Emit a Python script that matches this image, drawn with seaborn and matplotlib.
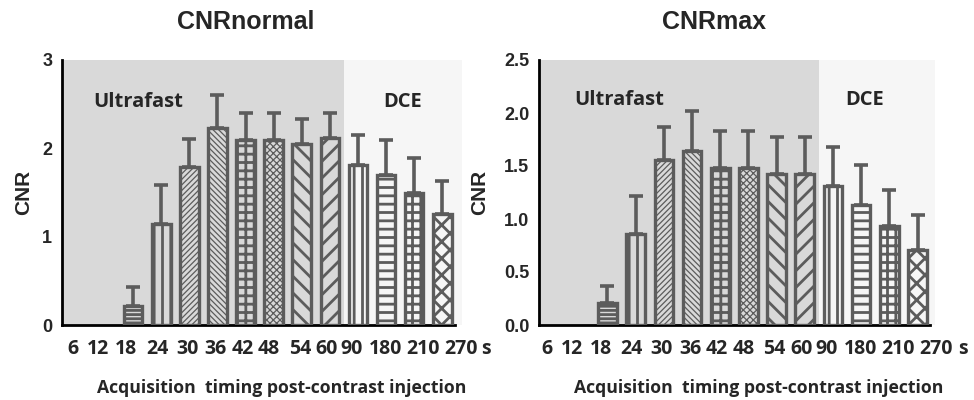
import numpy as np
import pandas as pd
import matplotlib
matplotlib.use("Agg")
import matplotlib.pyplot as plt
import matplotlib.transforms as mtransforms
import seaborn as sns

# ---------------- data ----------------
timings = ["6", "12", "18", "24", "30", "36", "42", "48", "54", "60", "90", "180", "210", "270"]
cnr_normal_mean = [0, 0, 0.22, 1.14, 1.79, 2.23, 2.10, 2.10, 2.05, 2.12, 1.81, 1.70, 1.50, 1.26]
cnr_normal_upper = [0, 0, 0.43, 1.58, 2.11, 2.60, 2.40, 2.40, 2.33, 2.40, 2.15, 2.09, 1.89, 1.63]
cnr_max_mean = [0, 0, 0.21, 0.86, 1.56, 1.64, 1.48, 1.48, 1.42, 1.42, 1.31, 1.13, 0.93, 0.71]
cnr_max_upper = [0, 0, 0.37, 1.22, 1.87, 2.02, 1.83, 1.83, 1.77, 1.77, 1.68, 1.51, 1.27, 1.04]
hatches = ["", "", "----", "||", "//////", "\\\\\\\\\\\\", "++", "xxxxx",
           "\\\\", "//", "||", "--", "++", "xx"]
fine = [False, False, False, False, True, True, False, True, False, False, False, False, False, False]
label_offsets_px = [-4, -7, -7, -4, -2, -2, -3, -5, -2, -3, -6, -1, 9, 19]

# ---------------- style ----------------
sns.set_theme(style="white")
plt.rcParams["font.family"] = ["Liberation Sans", "DejaVu Sans"]
plt.rcParams["hatch.linewidth"] = 1.8
EDGE = "#5c5c5c"
GRAY = "#d9d9d9"
LIGHT = "#f6f6f6"
OPEN = ["Open Sans", "DejaVu Sans"]

fig = plt.figure(figsize=(9.74, 4.0), dpi=100)
fig.patch.set_facecolor("white")

panels = [
    dict(title="CNRnormal", mean=cnr_normal_mean, upper=cnr_normal_upper,
         rect=[62 / 974, 75 / 400, 400 / 974, 265 / 400], xlim=(-0.53, 13.70), spine_end=13.45,
         ylim=(0, 3), yticks=[0, 1, 2, 3], ylabels=["0", "1", "2", "3"],
         ultra=(2.17, 2.52), dce=(11.6, 2.52), title_x=246, xlabel_x=282, ylabel_x=24, s_x=486),
    dict(title="CNRmax", mean=cnr_max_mean, upper=cnr_max_upper,
         rect=[539 / 974, 75 / 400, 396 / 974, 265 / 400], xlim=(-0.43, 13.62), spine_end=13.44,
         ylim=(0, 2.5), yticks=[0, 0.5, 1.0, 1.5, 2.0, 2.5],
         ylabels=["0.0", "0.5", "1.0", "1.5", "2.0", "2.5"],
         ultra=(2.41, 2.12), dce=(11.13, 2.12), title_x=714, xlabel_x=759, ylabel_x=480, s_x=963),
]

for p in panels:
    ax = fig.add_axes(p["rect"])
    ax.set_facecolor("white")
    ax.axvspan(p["xlim"][0], 9.5, color=GRAY, zorder=0, lw=0)
    ax.axvspan(9.5, p["xlim"][1], color=LIGHT, zorder=0, lw=0)
    n_before = len(ax.patches)

    df = pd.DataFrame({"t": timings, "v": p["mean"]})
    sns.barplot(data=df, x="t", y="v", order=timings, ax=ax, fill=False,
                color=EDGE, linewidth=2.4, width=0.66, errorbar=None, zorder=3)
    bars = ax.patches[n_before:]
    for i, patch in enumerate(bars):
        if p["mean"][i] == 0:
            patch.set_visible(False)
            continue
        patch.set_hatch(hatches[i])
        patch.set_edgecolor(EDGE)
        if hasattr(patch, "set_hatch_linewidth"):
            patch.set_hatch_linewidth(0.9 if fine[i] else 2.0)

    means = np.array(p["mean"], dtype=float)
    ups = np.array(p["upper"], dtype=float)
    mask = means > 0
    xs = np.arange(len(timings))[mask]
    ax.errorbar(xs, means[mask], yerr=[np.zeros(mask.sum()), (ups - means)[mask]],
                fmt="none", ecolor=EDGE, elinewidth=2.6, capsize=5, capthick=2.6, zorder=4)

    ax.set_xlim(*p["xlim"])
    ax.set_ylim(*p["ylim"])
    ax.set_yticks(p["yticks"])
    ax.set_yticklabels(p["ylabels"], fontsize=13, fontweight="bold")
    ax.set_xlabel("")
    ax.set_ylabel("")
    ax.set_xticks(range(len(timings)))
    ax.set_xticklabels([])
    base = ax.get_xaxis_transform()
    for i, (lab, off) in enumerate(zip(timings, label_offsets_px)):
        tr = base + mtransforms.ScaledTranslation(off / 100, 0, fig.dpi_scale_trans)
        ax.text(i, -24 / 265, lab, transform=tr, ha="center", va="center",
                fontsize=14, fontweight="bold", family=OPEN, clip_on=False)

    for side in ["top", "right"]:
        ax.spines[side].set_visible(False)
    for side in ["left", "bottom"]:
        ax.spines[side].set_color("black")
        ax.spines[side].set_linewidth(2)
    ax.spines["bottom"].set_bounds(p["xlim"][0], p["spine_end"])
    ax.tick_params(axis="y", direction="out", length=5, width=2, color="black", pad=2)
    ax.tick_params(axis="x", direction="out", length=4, width=2, color="black", pad=8)

    ax.text(p["ultra"][0], p["ultra"][1], "Ultrafast", ha="center", va="center",
            fontsize=14.5, fontweight="bold", family=OPEN, zorder=5)
    ax.text(p["dce"][0], p["dce"][1], "DCE", ha="center", va="center",
            fontsize=14.5, fontweight="bold", family=OPEN, zorder=5)

    fig.text(p["title_x"] / 974, 1 - 22 / 400, p["title"], ha="center", va="center",
             fontsize=18, fontweight="bold")
    fig.text(p["xlabel_x"] / 974, 1 - 388 / 400, "Acquisition  timing post-contrast injection",
             ha="center", va="center", fontsize=12.7, fontweight="bold", family=OPEN)
    fig.text(p["ylabel_x"] / 974, 1 - 192 / 400, "CNR", ha="center", va="center",
             rotation=90, fontsize=15, fontweight="bold")
    fig.text(p["s_x"] / 974, 1 - 349 / 400, "s", ha="center", va="center",
             fontsize=14, fontweight="bold", family=OPEN)

fig.savefig("out.png", dpi=100)
